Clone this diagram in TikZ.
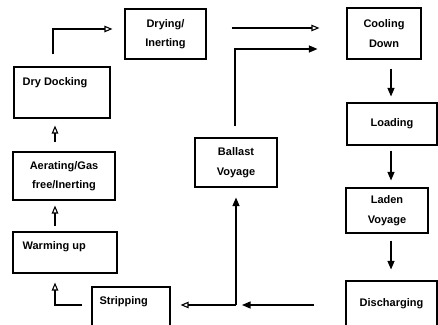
\documentclass[tikz,border=0pt]{standalone}
\usepackage{fontspec}
\setmainfont{Liberation Sans}
\usetikzlibrary{arrows.meta}

\begin{document}
\begin{tikzpicture}[
  x=1pt, y=-1pt,
  box/.style={rectangle, draw, line width=1.1pt, inner sep=0pt, align=center,
              font=\fontsize{11}{19.5}\selectfont\bfseries},
  lbl/.style={font=\fontsize{11}{12}\selectfont\bfseries, inner sep=0pt, anchor=west},
  flow/.style={line width=1.1pt, -{Triangle[length=8.5pt, width=7pt]}},
  oflow/.style={line width=1.1pt, -{Triangle[open, length=8pt, width=6.5pt]}},
]
  \useasboundingbox (0,0) rectangle (438,324);

  \node[box, minimum width=81pt, minimum height=50pt] (drying) at (165.5,34) {Drying/\\Inerting};
  \node[box, minimum width=96pt, minimum height=51pt,
        label={[lbl, xshift=9pt, yshift=9.5pt]west:Dry Docking}] (dock) at (62,92.5) {};
  \node[box, minimum width=102pt, minimum height=48pt] (aer) at (64,176) {Aerating/Gas\\free/Inerting};
  \node[box, minimum width=104pt, minimum height=41pt,
        label={[lbl, xshift=10pt, yshift=5.5pt]west:Warming up}] (warm) at (65,252.5) {};
  \node[box, minimum width=78pt, minimum height=39pt,
        label={[lbl, xshift=8pt, yshift=4.5pt]west:Stripping}] (strip) at (131,306.5) {};
  \node[box, minimum width=82pt, minimum height=49pt] (ballast) at (236,162.5) {Ballast\\Voyage};
  \node[box, minimum width=74pt, minimum height=51pt] (cool) at (384,33.5) {Cooling\\Down};
  \node[box, minimum width=90pt, minimum height=42pt] (load) at (392,124) {Loading};
  \node[box, minimum width=82pt, minimum height=45pt] (laden) at (387,210.5) {Laden\\Voyage};
  \node[box, minimum width=91pt, minimum height=45pt] (disc) at (391.5,303.5) {Discharging};

  % left column
  \draw[oflow] ([shift={(-9,-1.5)}]strip.west) -| ([shift={(-10,9)}]warm.south);
  \draw[oflow] ([shift={(-10,-5)}]warm.north) -- ([shift={(-9,5)}]aer.south);
  \draw[oflow] ([shift={(-9,-9)}]aer.north) -- ([shift={(-7,7)}]dock.south);
  \draw[oflow] ([shift={(-9,-12)}]dock.north) |- ([shift={(-12,-5)}]drying.west);
  \draw[oflow] ([shift={(25,-6)}]drying.east) -- ([shift={(-27,-5.5)}]cool.west);

  % right column
  \draw[flow] ([shift={(7,9)}]cool.south) -- ([shift={(-1,-6)}]load.north);
  \draw[flow] ([shift={(-1,5)}]load.south) -- ([shift={(4,-7)}]laden.north);
  \draw[flow] ([shift={(4,7)}]laden.south) -- ([shift={(-0.5,-11)}]disc.north);

  % return leg
  \coordinate (feed) at ([shift={(-31,1.5)}]disc.west);
  \coordinate (split) at (ballast.south |- feed);
  \draw[flow] (feed) -- ([shift={(6,0)}]split);
  \draw[oflow] (split) -- ([shift={(10,-1.5)}]strip.east);
  \draw[flow] (split) -- ([shift={(0,10)}]ballast.south);
  \draw[flow] ([shift={(-1,-11)}]ballast.north) |- ([shift={(-29,15.5)}]cool.west);
\end{tikzpicture}
\end{document}
